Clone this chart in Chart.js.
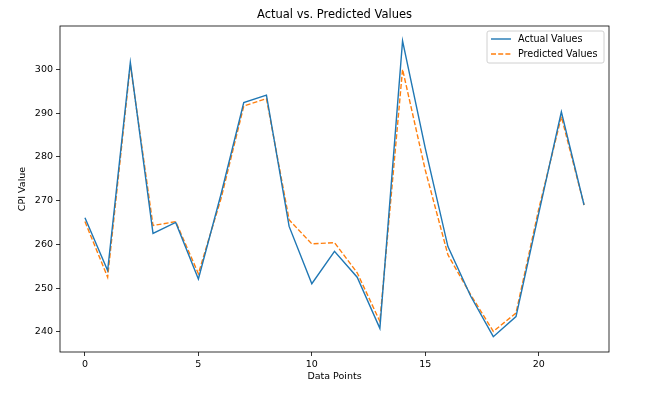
<!DOCTYPE html>
<html>
<head>
<meta charset="utf-8">
<script src="https://cdn.jsdelivr.net/npm/chart.js@4"></script>
<style>
  html, body { margin: 0; padding: 0; background: #fff; }
  #wrap { width: 654px; height: 395px; }
</style>
</head>
<body>
<div id="wrap"><canvas id="cpiChart" width="654" height="395"></canvas></div>
<script>
// data
const dataPoints = [0, 1, 2, 3, 4, 5, 6, 7, 8, 9, 10, 11, 12, 13, 14, 15, 16, 17, 18, 19, 20, 21, 22];
const actualValues = [266.1, 254.0, 301.6, 262.5, 265.0, 252.1, 271.5, 292.4, 294.1, 264.1, 251.0, 258.4,
                      252.5, 240.8, 306.5, 282.0, 259.5, 248.2, 238.9, 243.5, 267.0, 290.3, 269.0];
const predictedValues = [265.2, 252.5, 301.0, 264.3, 265.2, 253.3, 270.5, 291.6, 293.3, 265.6, 260.1, 260.4,
                         253.5, 242.4, 300.0, 277.0, 257.6, 248.5, 240.1, 244.3, 268.0, 289.2, 269.0];
const xTicks = [0, 5, 10, 15, 20];
const yTicks = [240, 250, 260, 270, 280, 290, 300];
const chartTitle = 'Actual vs. Predicted Values';

const FONT = "'DejaVu Sans', sans-serif";

function toXY(values) {
    return dataPoints.map((x, i) => ({ x: x, y: values[i] }));
}

// frame (all four spines), title over the axes and legend inside, matplotlib style
const mplFrame = {
    id: 'mplFrame',
    afterDraw(chart) {
        const { ctx, chartArea: a } = chart;
        ctx.save();
        ctx.strokeStyle = '#000';
        ctx.lineWidth = 0.8;
        ctx.strokeRect(a.left, a.top, a.right - a.left, a.bottom - a.top);

        // title centred on the axes, not on the canvas
        ctx.font = '11.5px ' + FONT;
        ctx.fillStyle = '#000';
        ctx.textAlign = 'center';
        ctx.textBaseline = 'middle';
        ctx.fillText(chartTitle, (a.left + a.right) / 2, 15.5);

        // legend box
        const w = 117, h = 32;
        const bx = a.right - 5 - w, by = a.top + 5;
        ctx.beginPath();
        ctx.roundRect(bx, by, w, h, 2);
        ctx.fillStyle = 'rgba(255,255,255,0.8)';
        ctx.fill();
        ctx.strokeStyle = '#d0d0d0';
        ctx.lineWidth = 1;
        ctx.stroke();

        ctx.font = '9.6px ' + FONT;
        ctx.textAlign = 'left';
        ctx.fillStyle = '#000';
        chart.data.datasets.forEach((ds, i) => {
            const y = by + 8 + i * 15;
            ctx.beginPath();
            ctx.setLineDash(ds.borderDash || []);
            ctx.strokeStyle = ds.borderColor;
            ctx.lineWidth = ds.borderWidth;
            ctx.moveTo(bx + 4, y);
            ctx.lineTo(bx + 24, y);
            ctx.stroke();
            ctx.setLineDash([]);
            ctx.fillText(ds.label, bx + 31, y);
        });
        ctx.restore();
    }
};

const canvas = document.getElementById('cpiChart');
canvas.chart = new Chart(canvas.getContext('2d'), {
    type: 'line',
    data: {
        datasets: [{
            label: 'Actual Values',
            data: toXY(actualValues),
            borderColor: '#1f77b4',
            borderWidth: 1.4,
            pointRadius: 0,
            tension: 0,
            fill: false
        }, {
            label: 'Predicted Values',
            data: toXY(predictedValues),
            borderColor: '#ff7f0e',
            borderWidth: 1.4,
            borderDash: [5, 2.2],
            pointRadius: 0,
            tension: 0,
            fill: false
        }]
    },
    options: {
        responsive: false,
        animation: false,
        layout: {
            padding: { left: 0, right: 45, top: 26, bottom: 0 }
        },
        plugins: {
            legend: { display: false },
            tooltip: { enabled: false },
            title: { display: false }
        },
        scales: {
            x: {
                type: 'linear',
                min: -1.1,
                max: 23.1,
                afterBuildTicks: function (scale) {
                    scale.ticks = xTicks.map(v => ({ value: v }));
                },
                afterFit: function (scale) {
                    scale.height = 43;
                },
                grid: { display: true, drawOnChartArea: false, tickLength: 4, color: '#000', lineWidth: 0.8 },
                border: { display: false },
                ticks: {
                    color: '#000',
                    padding: 3,
                    maxRotation: 0,
                    font: { family: FONT, size: 9.5 }
                },
                title: {
                    display: true,
                    text: 'Data Points',
                    color: '#000',
                    font: { family: FONT, size: 9.5 },
                    padding: { top: 0, bottom: 12.3 }
                }
            },
            y: {
                type: 'linear',
                min: 235.4,
                max: 309.9,
                afterBuildTicks: function (scale) {
                    scale.ticks = yTicks.map(v => ({ value: v }));
                },
                afterFit: function (scale) {
                    scale.width = 60;
                },
                grid: { display: true, drawOnChartArea: false, tickLength: 4, color: '#000', lineWidth: 0.8 },
                border: { display: false },
                ticks: {
                    color: '#000',
                    padding: 3,
                    font: { family: FONT, size: 9.5 }
                },
                title: {
                    display: true,
                    text: 'CPI Value',
                    color: '#000',
                    font: { family: FONT, size: 9.5 },
                    padding: { top: 17.3, bottom: 0 }
                }
            }
        }
    },
    plugins: [mplFrame]
});
</script>
</body>
</html>
